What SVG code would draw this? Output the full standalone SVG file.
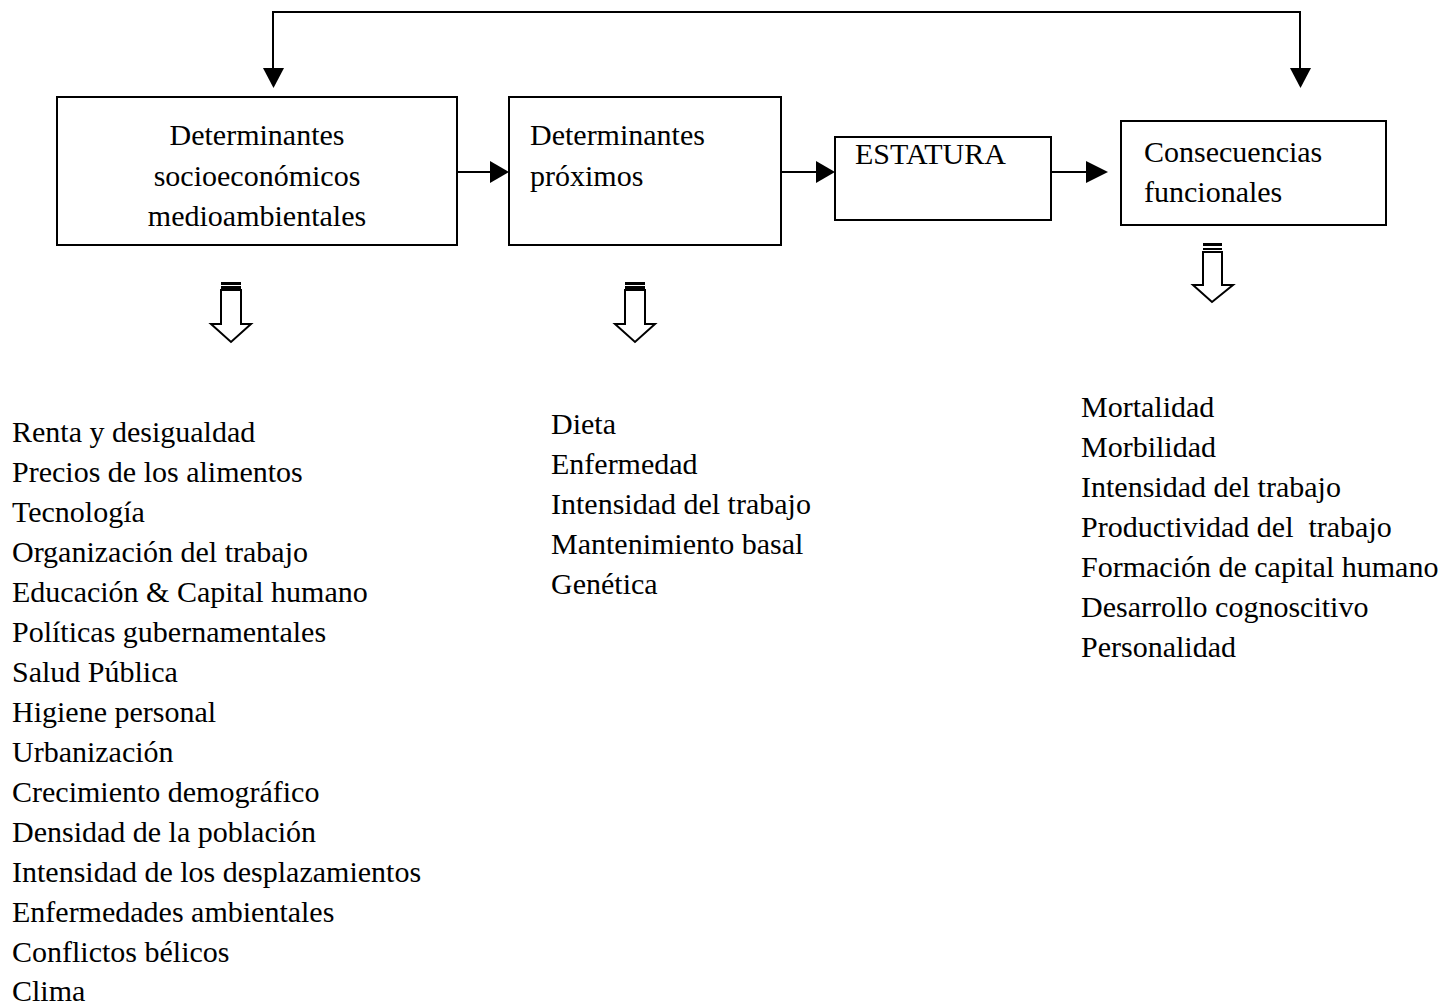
<svg xmlns="http://www.w3.org/2000/svg" width="1451" height="1005" viewBox="0 0 1451 1005">
<style>
text{font-family:"Liberation Serif","Times New Roman",serif;font-size:30px;fill:#000}
.box{fill:#fff;stroke:#000;stroke-width:2}
.ln{fill:none;stroke:#000;stroke-width:2}
.hol{fill:#fff;stroke:#000;stroke-width:2;stroke-linejoin:miter}
</style>
<rect width="1451" height="1005" fill="#fff"/>
<g id="connectors">
<polyline class="ln" points="273,68 273,12 1300,12 1300,68"/>
<path d="M263,68 L284,68 L273.5,88 Z" fill="#000"/>
<path d="M1290,68 L1311,68 L1300.5,88 Z" fill="#000"/>
<line class="ln" x1="457" y1="172" x2="492" y2="172"/>
<path d="M490,161 L509,172 L490,183 Z" fill="#000"/>
<line class="ln" x1="781" y1="172" x2="818" y2="172"/>
<path d="M816,161 L835,172 L816,183 Z" fill="#000"/>
<line class="ln" x1="1051" y1="172" x2="1088" y2="172"/>
<path d="M1086,161 L1108,172 L1086,183 Z" fill="#000"/>
</g>
<g id="n1">
<rect class="box" x="57" y="97" width="400" height="148"/>
<text x="257" y="145" text-anchor="middle">Determinantes</text>
<text x="257" y="186" text-anchor="middle">socioeconómicos</text>
<text x="257" y="226" text-anchor="middle">medioambientales</text>
</g>
<g id="n2">
<rect class="box" x="509" y="97" width="272" height="148"/>
<text x="530" y="145">Determinantes</text>
<text x="530" y="186">próximos</text>
</g>
<g id="n3">
<rect class="box" x="835" y="137" width="216" height="83"/>
<text x="855" y="164">ESTATURA</text>
</g>
<g id="n4">
<rect class="box" x="1121" y="121" width="265" height="104"/>
<text x="1144" y="162">Consecuencias</text>
<text x="1144" y="202">funcionales</text>
</g>
<g id="hollow1">
<path class="hol" d="M221,290 L241,290 L241,324 L251,324 L231,342 L211,324 L221,324 Z"/>
<rect x="221" y="282" width="20" height="3" fill="#000"/>
<rect x="221" y="286" width="20" height="3" fill="#000"/>
</g>
<g id="hollow2">
<path class="hol" d="M625,290 L645,290 L645,324 L655,324 L635,342 L615,324 L625,324 Z"/>
<rect x="625" y="282" width="20" height="3" fill="#000"/>
<rect x="625" y="286" width="20" height="3" fill="#000"/>
</g>
<g id="hollow3">
<path class="hol" d="M1203,252 L1222,252 L1222,285 L1233,285 L1212,302 L1193,285 L1203,285 Z"/>
<rect x="1203" y="243" width="19" height="3" fill="#000"/>
<rect x="1203" y="248" width="19" height="2" fill="#000"/>
</g>
<g id="list1">
<text x="12" y="442">Renta y desigualdad</text>
<text x="12" y="482">Precios de los alimentos</text>
<text x="12" y="522">Tecnología</text>
<text x="12" y="562">Organización del trabajo</text>
<text x="12" y="602">Educación &amp; Capital humano</text>
<text x="12" y="642">Políticas gubernamentales</text>
<text x="12" y="682">Salud Pública</text>
<text x="12" y="722">Higiene personal</text>
<text x="12" y="762">Urbanización</text>
<text x="12" y="802">Crecimiento demográfico</text>
<text x="12" y="842">Densidad de la población</text>
<text x="12" y="882">Intensidad de los desplazamientos</text>
<text x="12" y="922">Enfermedades ambientales</text>
<text x="12" y="962">Conflictos bélicos</text>
<text x="12" y="1001">Clima</text>
</g>
<g id="list2">
<text x="551" y="434">Dieta</text>
<text x="551" y="474">Enfermedad</text>
<text x="551" y="514">Intensidad del trabajo</text>
<text x="551" y="554">Mantenimiento basal</text>
<text x="551" y="594">Genética</text>
</g>
<g id="list3">
<text x="1081" y="417">Mortalidad</text>
<text x="1081" y="457">Morbilidad</text>
<text x="1081" y="497">Intensidad del trabajo</text>
<text x="1081" y="537" xml:space="preserve">Productividad del  trabajo</text>
<text x="1081" y="577">Formación de capital humano</text>
<text x="1081" y="617">Desarrollo cognoscitivo</text>
<text x="1081" y="657">Personalidad</text>
</g>
</svg>
